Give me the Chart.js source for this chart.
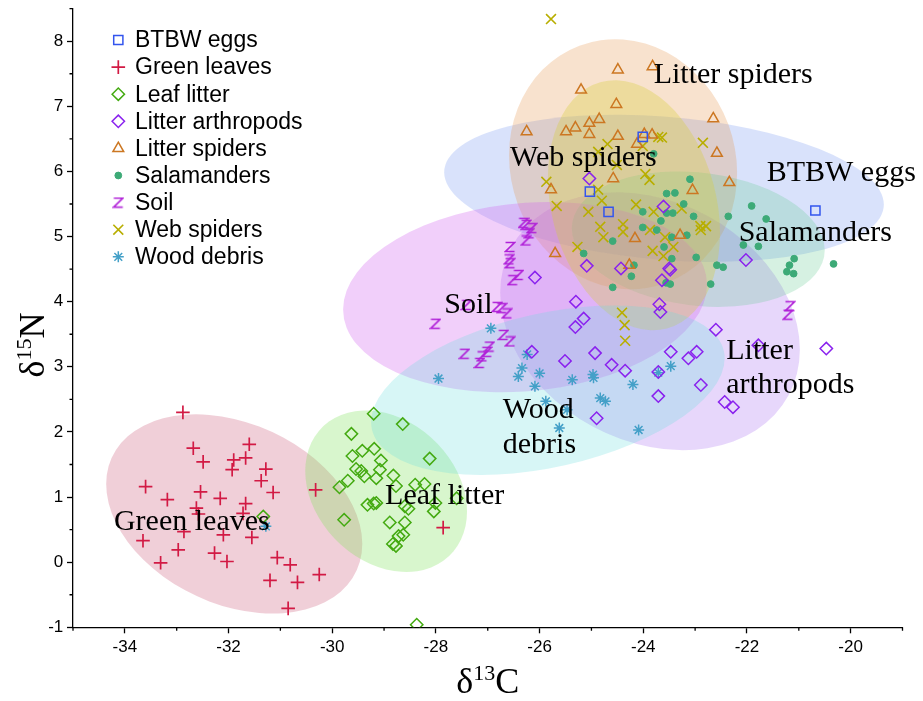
<!DOCTYPE html>
<html>
<head>
<meta charset="utf-8">
<script src="https://cdn.jsdelivr.net/npm/chart.js@4.4.1/dist/chart.umd.min.js"></script>
<style>
html, body { margin: 0; padding: 0; background: #fff; }
</style>
</head>
<body>
<canvas id="chart" width="923" height="701"></canvas>
<script>
// group names, legend order
var groupNames = ["BTBW eggs", "Green leaves", "Leaf litter", "Litter arthropods", "Litter spiders", "Salamanders", "Soil", "Web spiders", "Wood debris"];

// d13C, d15N per sample
var btbwEggs = [[-24.01,6.53],[-25.03,5.69],[-24.67,5.38],[-20.68,5.40]];
var greenLeaves = [[-32.88,2.30],[-32.68,1.75],[-31.60,1.81],[-32.49,1.54],[-31.90,1.57],[-31.67,1.60],[-31.93,1.42],[-31.28,1.43],[-31.37,1.25],[-31.14,1.07],[-33.60,1.16],[-33.18,0.96],[-32.54,1.08],[-32.16,0.98],[-31.67,0.90],[-32.62,0.83],[-32.58,0.74],[-31.72,0.75],[-32.86,0.47],[-33.65,0.33],[-32.10,0.42],[-31.55,0.38],[-32.97,0.19],[-33.31,-0.01],[-32.27,0.14],[-32.03,0.01],[-31.06,0.07],[-30.81,-0.04],[-31.20,-0.28],[-30.67,-0.31],[-30.25,-0.19],[-30.85,-0.71],[-30.32,1.11],[-27.86,0.53]];
var leafLitter = [[-29.20,2.28],[-28.64,2.12],[-29.63,1.97],[-29.42,1.71],[-29.19,1.74],[-29.61,1.63],[-29.06,1.56],[-28.12,1.59],[-29.54,1.43],[-29.44,1.40],[-29.38,1.32],[-29.15,1.29],[-29.08,1.42],[-28.82,1.33],[-28.77,1.17],[-29.70,1.25],[-29.86,1.15],[-28.40,1.19],[-28.22,1.20],[-29.32,0.88],[-29.20,0.90],[-29.15,0.91],[-28.60,0.86],[-28.53,0.82],[-28.01,0.91],[-28.04,0.78],[-27.60,0.98],[-29.77,0.65],[-28.89,0.61],[-28.60,0.61],[-28.63,0.42],[-28.72,0.40],[-28.83,0.28],[-28.77,0.25],[-28.37,-0.96],[-31.33,0.70]];
var litterArthropods = [[-26.09,4.37],[-26.15,3.23],[-25.51,3.09],[-25.30,4.00],[-25.15,3.74],[-25.31,3.61],[-24.93,3.21],[-24.61,3.03],[-24.35,2.94],[-23.69,3.96],[-23.67,3.84],[-23.64,4.33],[-23.48,4.49],[-23.47,3.23],[-23.71,2.92],[-23.13,3.13],[-22.97,3.23],[-23.71,2.55],[-22.89,2.72],[-22.60,3.57],[-21.78,3.33],[-22.43,2.46],[-22.27,2.38],[-24.90,2.21],[-20.47,3.28],[-22.02,4.64],[-25.04,5.89],[-23.61,5.46],[-25.09,4.55],[-24.43,4.51],[-23.50,4.51]];
var litterSpiders = [[-24.49,7.56],[-23.82,7.61],[-25.20,7.25],[-24.52,7.03],[-26.25,6.61],[-25.49,6.61],[-25.31,6.67],[-25.04,6.74],[-24.85,6.80],[-25.04,6.57],[-24.49,6.54],[-23.98,6.57],[-23.83,6.56],[-24.12,6.42],[-22.65,6.81],[-22.58,6.28],[-22.34,5.83],[-24.58,5.89],[-25.78,5.72],[-23.05,5.71],[-23.29,5.02],[-24.16,4.97],[-25.70,4.74],[-24.27,4.56]];
var salamanders = [[-24.59,4.22],[-24.23,4.39],[-23.56,4.29],[-23.48,4.27],[-22.70,4.27],[-21.23,4.46],[-21.10,4.43],[-21.91,5.47],[-22.36,5.31],[-21.63,5.27],[-22.07,4.87],[-21.78,4.85],[-22.58,4.56],[-22.46,4.53],[-21.09,4.66],[-21.18,4.56],[-20.33,4.58],[-23.10,5.88],[-23.55,5.66],[-23.39,5.67],[-23.22,5.50],[-24.01,5.38],[-23.55,5.36],[-23.43,5.36],[-23.03,5.31],[-23.66,5.24],[-24.01,5.14],[-23.74,5.10],[-23.45,4.99],[-23.16,5.02],[-24.59,4.93],[-23.60,4.84],[-25.15,4.74],[-23.45,4.66],[-22.98,4.68],[-24.18,4.56],[-23.80,6.27]];
var soil = [[-26.26,5.18],[-26.15,5.13],[-26.20,5.05],[-26.26,4.94],[-26.31,5.21],[-26.57,4.84],[-26.59,4.65],[-26.57,4.59],[-26.41,4.41],[-26.52,4.33],[-27.41,3.95],[-26.82,3.92],[-26.73,3.90],[-26.63,3.82],[-28.01,3.66],[-26.70,3.49],[-26.57,3.39],[-27.45,3.20],[-26.97,3.31],[-27.02,3.23],[-27.11,3.16],[-27.16,3.06],[-21.17,3.93],[-21.21,3.80]];
var webSpiders = [[-25.78,8.34],[-23.71,6.53],[-23.64,6.52],[-24.01,6.39],[-24.69,6.42],[-22.85,6.44],[-24.87,6.30],[-25.87,5.84],[-24.87,5.72],[-23.88,5.87],[-23.96,5.96],[-24.51,6.10],[-24.80,5.55],[-25.67,5.47],[-24.14,5.49],[-25.06,5.38],[-23.80,5.38],[-23.26,5.43],[-24.83,5.15],[-24.39,5.19],[-24.39,5.07],[-24.77,4.99],[-23.87,5.10],[-23.58,4.99],[-22.90,5.16],[-22.79,5.16],[-22.89,5.10],[-25.27,4.84],[-23.82,4.78],[-23.42,4.84],[-23.61,4.70],[-24.41,3.83],[-24.36,3.64],[-24.35,3.40]];
var woodDebris = [[-31.28,0.55],[-26.94,3.59],[-27.95,2.82],[-26.24,3.19],[-26.34,2.98],[-26.00,2.90],[-26.41,2.85],[-26.09,2.70],[-25.88,2.47],[-25.62,2.06],[-25.47,2.34],[-25.37,2.80],[-24.97,2.88],[-24.96,2.83],[-24.20,2.73],[-23.71,2.91],[-23.47,3.01],[-24.83,2.52],[-24.73,2.47],[-24.09,2.03]];

// standard ellipses (data units): centre, semi-extent in x and y, correlation
var ellX  = [-23.60, -31.89, -28.96, -23.87, -24.39, -22.94, -26.28, -24.18, -25.84];
var ellY  = [  5.74,   0.74,   1.09,   3.70,   6.11,   4.96,   4.07,   5.48,   2.64];
var ellSx = [  4.24,   2.47,   1.56,   2.89,   2.20,   2.44,   3.51,   1.66,   3.41];
var ellSy = [  1.13,   1.53,   1.24,   1.98,   1.92,   1.04,   1.46,   1.92,   1.30];
var ellR  = [ -0.22,  -0.30,  -0.25,  -0.22,  -0.07,  -0.16,   0.13,  -0.22,   0.375];

// group labels written on the plot
var labelText = ["Litter spiders", "Web spiders", "BTBW eggs", "Salamanders", "Soil", "Litter", "arthropods", "Wood", "debris", "Leaf litter", "Green leaves"];
var labelX = [-23.80, -26.57, -21.62, -22.16, -27.84, -22.40, -22.40, -26.71, -26.71, -28.98, -34.21];
var labelY = [  7.35,   6.08,   5.86,   4.93,   3.82,   3.12,   2.60,   2.22,   1.67,   0.90,   0.50];

var markColors = ["#3355ee", "#d21a44", "#44aa11", "#8a22ee", "#cc7722", "#3daa77", "#b020d8", "#b8ae00", "#44a0c8"];
var ellColors = ["rgba(95,135,240,0.24)", "rgba(205,95,125,0.30)", "rgba(125,225,90,0.30)", "rgba(170,110,240,0.28)",
                 "rgba(230,150,80,0.28)", "rgba(90,200,140,0.25)", "rgba(210,95,240,0.30)", "rgba(215,205,55,0.32)", "rgba(100,220,220,0.26)"];

// soil marker: a little "z"
function zMark(color) {
  var c = document.createElement("canvas");
  c.width = 12; c.height = 12;
  var g = c.getContext("2d");
  g.strokeStyle = color;
  g.lineWidth = 1.6;
  g.beginPath();
  g.moveTo(1.5, 1.5); g.lineTo(10.5, 1.5); g.lineTo(1.5, 10.5); g.lineTo(10.5, 10.5);
  g.stroke();
  return c;
}

var styles = ["rect", "cross", "rectRot", "rectRot", "triangle", "circle", zMark(markColors[6]), "crossRot", "star"];
var radii = [6.5, 6.8, 6.2, 6.2, 6.2, 3.4, 6, 7, 5.5];
var widths = [1.5, 1.7, 1.5, 1.5, 1.5, 1, 1.5, 1.6, 1.5];
var filled = [false, false, false, false, false, true, false, false, false];
var series = [btbwEggs, greenLeaves, leafLitter, litterArthropods, litterSpiders, salamanders, soil, webSpiders, woodDebris];

var datasets = [];
for (var i = 0; i < series.length; i++) {
  datasets.push({
    label: groupNames[i],
    data: series[i],
    showLine: false,
    pointStyle: styles[i],
    pointRadius: radii[i],
    pointHoverRadius: radii[i],
    pointBorderWidth: widths[i],
    pointBorderColor: markColors[i],
    pointBackgroundColor: filled[i] ? markColors[i] : "rgba(0,0,0,0)"
  });
}

// shaded ellipses behind the points
var ellipsePlugin = {
  id: "ellipses",
  beforeDatasetsDraw: function(chart) {
    var ctx = chart.ctx, xs = chart.scales.x, ys = chart.scales.y;
    var kx = xs.getPixelForValue(1) - xs.getPixelForValue(0);
    var ky = ys.getPixelForValue(0) - ys.getPixelForValue(1);
    for (var i = 0; i < ellX.length; i++) {
      var r = -ellR[i]; // y runs downward on screen
      ctx.save();
      ctx.transform(ellSx[i] * kx, ellSy[i] * ky * r, 0, ellSy[i] * ky * Math.sqrt(1 - r * r),
                    xs.getPixelForValue(ellX[i]), ys.getPixelForValue(ellY[i]));
      ctx.beginPath();
      ctx.arc(0, 0, 1, 0, 2 * Math.PI);
      ctx.restore();
      ctx.fillStyle = ellColors[i];
      ctx.fill();
    }
  }
};

// group names on the plot
var labelPlugin = {
  id: "grouplabels",
  afterDatasetsDraw: function(chart) {
    var ctx = chart.ctx, xs = chart.scales.x, ys = chart.scales.y;
    ctx.save();
    ctx.font = "30px 'Liberation Serif'";
    ctx.fillStyle = "#000";
    ctx.textAlign = "left";
    ctx.textBaseline = "alphabetic";
    for (var i = 0; i < labelText.length; i++) {
      ctx.fillText(labelText[i], xs.getPixelForValue(labelX[i]), ys.getPixelForValue(labelY[i]));
    }
    ctx.restore();
  }
};

// draws "δ" + superscript + letter, centred on x
function drawDelta(ctx, x, y, sup, sym) {
  ctx.font = "36px 'Liberation Serif'";
  var w1 = ctx.measureText("\u03b4").width, w3 = ctx.measureText(sym).width;
  ctx.font = "22px 'Liberation Serif'";
  var w2 = ctx.measureText(sup).width;
  var x0 = x - (w1 + w2 + w3) / 2;
  ctx.font = "36px 'Liberation Serif'";
  ctx.fillText("\u03b4", x0, y);
  ctx.font = "22px 'Liberation Serif'";
  ctx.fillText(sup, x0 + w1, y - 13);
  ctx.font = "36px 'Liberation Serif'";
  ctx.fillText(sym, x0 + w1 + w2, y);
}

// legend, minor ticks and axis titles
var decorPlugin = {
  id: "decor",
  afterDraw: function(chart) {
    var ctx = chart.ctx, xs = chart.scales.x, ys = chart.scales.y;
    var area = chart.chartArea;
    ctx.save();
    // minor ticks
    ctx.strokeStyle = "#000";
    ctx.lineWidth = 1.3;
    ctx.beginPath();
    xs.ticks.forEach(function(t) {
      if (t.label === "") {
        var px = xs.getPixelForValue(t.value);
        ctx.moveTo(px, area.bottom); ctx.lineTo(px, area.bottom + 3.5);
      }
    });
    ys.ticks.forEach(function(t) {
      if (t.label === "") {
        var py = ys.getPixelForValue(t.value);
        ctx.moveTo(area.left, py); ctx.lineTo(area.left - 3.5, py);
      }
    });
    ctx.stroke();

    // legend
    for (var i = 0; i < groupNames.length; i++) {
      var ly = 40 + i * 27.1;
      ctx.strokeStyle = markColors[i];
      ctx.fillStyle = filled[i] ? markColors[i] : "rgba(0,0,0,0)";
      ctx.lineWidth = widths[i];
      Chart.helpers.drawPoint(ctx, {pointStyle: styles[i], radius: radii[i], rotation: 0, borderWidth: widths[i]}, 118.3, ly);
      ctx.fillStyle = "#000";
      ctx.font = "23px 'Liberation Sans'";
      ctx.textAlign = "left";
      ctx.textBaseline = "middle";
      ctx.fillText(groupNames[i], 135, ly + 1);
    }

    // axis titles
    ctx.fillStyle = "#000";
    ctx.textAlign = "left";
    ctx.textBaseline = "alphabetic";
    drawDelta(ctx, (area.left + area.right) / 2, 693, "13", "C");
    ctx.translate(44, 345);
    ctx.rotate(-Math.PI / 2);
    drawDelta(ctx, 0, 0, "15", "N");
    ctx.restore();
  }
};

function majorColor(c) {
  return (c.tick && c.tick.label !== "") ? "#000" : "rgba(0,0,0,0)";
}

var ctx = document.getElementById("chart").getContext("2d");
var chart = new Chart(ctx, {
  type: "scatter",
  data: { datasets: datasets },
  options: {
    responsive: false,
    animation: false,
    devicePixelRatio: 1,
    events: [],
    layout: { padding: { top: 8.4, right: 20.5, left: 0, bottom: 0 } },
    plugins: {
      legend: { display: false },
      tooltip: { enabled: false }
    },
    scales: {
      x: {
        type: "linear",
        min: -35, max: -19,
        border: { display: true, color: "#000", width: 1.3 },
        grid: { display: true, drawOnChartArea: false, drawTicks: true, tickLength: 6, tickWidth: 1.3, tickColor: majorColor },
        ticks: {
          stepSize: 1, autoSkip: false, maxRotation: 0, padding: 3.5,
          color: "#000", font: { family: "'Liberation Sans'", size: 17 },
          callback: function(v) { return Math.round(v) % 2 === 0 ? String(v) : ""; }
        },
        afterFit: function(s) { s.height = 73.7; s.paddingLeft = 0; s.paddingRight = 0; }
      },
      y: {
        type: "linear",
        min: -1, max: 8.5,
        border: { display: true, color: "#000", width: 1.3 },
        grid: { display: true, drawOnChartArea: false, drawTicks: true, tickLength: 6, tickWidth: 1.3, tickColor: majorColor },
        ticks: {
          stepSize: 0.5, autoSkip: false, padding: 3.7,
          color: "#000", font: { family: "'Liberation Sans'", size: 17 },
          callback: function(v) { return Number.isInteger(v) ? String(v) : ""; }
        },
        afterFit: function(s) { s.width = 73; s.paddingTop = 0; s.paddingBottom = 0; }
      }
    }
  },
  plugins: [ellipsePlugin, labelPlugin, decorPlugin]
});
</script>
</body>
</html>
